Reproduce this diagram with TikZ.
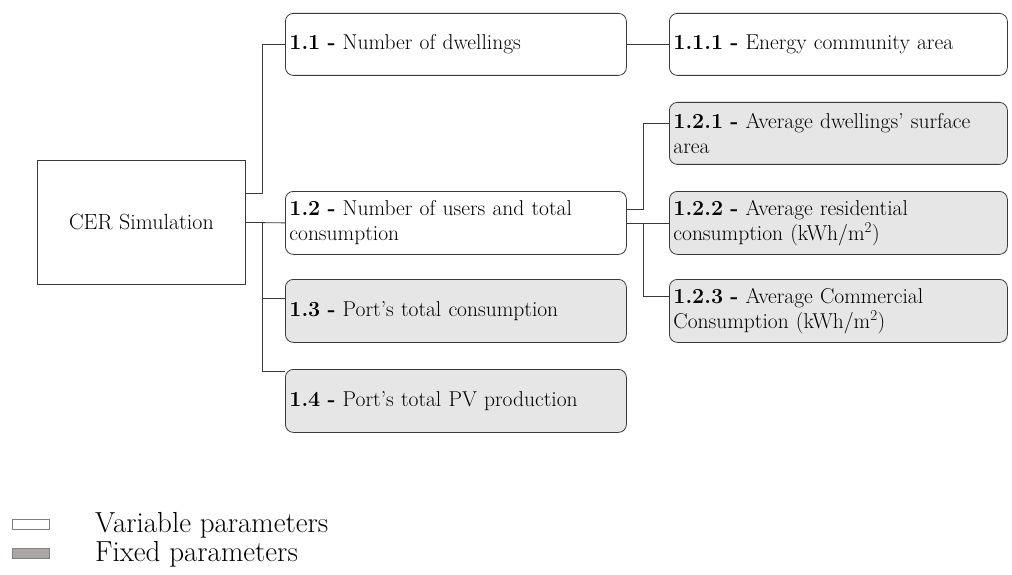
\documentclass[tikz,border=0pt]{standalone}
\usetikzlibrary{positioning}
\definecolor{boxgray}{HTML}{E6E6E6}
\definecolor{linec}{HTML}{3A3A3A}
\definecolor{leggray}{HTML}{ABA7A7}
\tikzset{
  base/.style={draw=linec, line width=0.8pt, anchor=north west, inner sep=4pt, align=left,
     text width=333pt, font=\fontsize{21.5}{25}\selectfont},
  varbox/.style={base, rounded corners=8pt, fill=white},
  fixbox/.style={base, rounded corners=8pt, fill=boxgray},
  conn/.style={draw=linec, line width=0.8pt},
  legtext/.style={anchor=west, font=\fontsize{29}{32}\selectfont, inner sep=0pt}
}
\begin{document}
\begin{tikzpicture}[x=1pt,y=-1pt]
\useasboundingbox (0,0) rectangle (1012,575);
\node[draw=linec, line width=0.8pt, anchor=north west, minimum width=208pt, minimum height=124pt, font=\fontsize{22}{25}\selectfont] (cer) at (37,160) {CER Simulation};
\node[varbox, minimum height=62pt] (n11) at (285,13) {\textbf{1.1 -} Number of dwellings};
\node[varbox, minimum height=63pt] (n12) at (285,191) {\textbf{1.2 -} Number of users and total\\consumption};
\node[fixbox, minimum height=63pt] (n13) at (285,279) {\textbf{1.3 -} Port's total consumption};
\node[fixbox, minimum height=63pt] (n14) at (285,369) {\textbf{1.4 -} Port’s total PV production};
\node[varbox, minimum height=62pt, text width=330pt] (n111) at (669,13) {\textbf{1.1.1 -} Energy community area};
\node[fixbox, minimum height=62pt, text width=330pt] (n121) at (669,102) {\textbf{1.2.1 -} Average dwellings' surface\\area};
\node[fixbox, minimum height=63pt, text width=330pt] (n122) at (669,191) {\textbf{1.2.2 -} Average residential\\consumption (kWh/m\textsuperscript{2})};
\node[fixbox, minimum height=63pt, text width=330pt] (n123) at (669,279) {\textbf{1.2.3 -} Average Commercial\\Consumption (kWh/m\textsuperscript{2})};
% connectors
\draw[conn] ([yshift=29pt]cer.east) -- ++(17,0) |- (n11.west);
\draw[conn] (cer.east) -- (n12.west);
\draw[conn] ([xshift=17pt]cer.east) |- ([yshift=13pt]n13.west);
\draw[conn] ([xshift=17pt]cer.east) |- ([yshift=30pt]n14.west);
\draw[conn] (n11.east) -- (n111.west);
\draw[conn] ([yshift=14pt]n12.east) -- ++(17,0) |- ([yshift=10pt]n121.west);
\draw[conn] (n12.east) -- (n122.west);
\draw[conn] ([xshift=17pt]n12.east) |- ([yshift=15pt]n123.west);
% legend
\node[draw=gray, line width=0.6pt, fill=white, anchor=north west, minimum width=37pt, minimum height=10pt, inner sep=0pt] (lv) at (12,519) {};
\node[draw=gray, line width=0.6pt, fill=leggray, anchor=north west, minimum width=37pt, minimum height=10pt, inner sep=0pt] (lf) at (12,548) {};
\node[legtext] (tv) at (95,525) {Variable parameters};
\node[legtext] (tf) at (95,554) {Fixed parameters};
\end{tikzpicture}
\end{document}
